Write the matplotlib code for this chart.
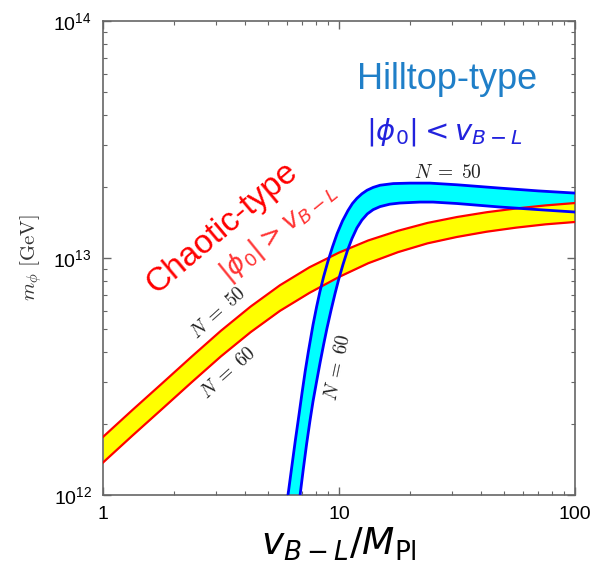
import numpy as np
import matplotlib
matplotlib.use('Agg')
import matplotlib.pyplot as plt

plt.rcParams['font.family'] = ['Liberation Sans', 'DejaVu Sans']

# v_{B-L}/M_Pl and m_phi in units of 1e12 GeV
x_chaotic = [1, 1.33, 1.78, 2.37, 3.16, 4.22, 5.62, 7.50, 10, 13.3, 17.8, 23.7,
             31.6, 42.2, 56.2, 75, 100]
m_chaotic_N50 = [1.758, 2.280, 2.958, 3.828, 4.932, 6.237, 7.674, 9.141, 10.54,
                 11.86, 13.03, 14.06, 14.89, 15.60, 16.18, 16.67, 17.06]
m_chaotic_N60 = [1.371, 1.778, 2.307, 2.985, 3.846, 4.864, 5.984, 7.129, 8.318,
                 9.506, 10.59, 11.53, 12.27, 12.91, 13.43, 13.87, 14.19]

x_hill_N50 = [5.89, 6.08, 6.31, 6.53, 6.76, 6.97, 7.19, 7.41, 7.76, 8.04, 8.30,
              8.61, 8.97, 9.38, 9.82, 10.35, 10.91, 11.40, 11.91, 12.50, 13.15,
              13.96, 14.93, 16.98, 20.0, 24.3, 31.6, 48.1, 70.0, 100]
m_hill_N50 = [0.785, 1.000, 1.318, 1.698, 2.163, 2.692, 3.327, 4.009, 5.224, 6.237,
              7.211, 8.356, 9.661, 11.12, 12.68, 14.35, 15.85, 16.98, 17.86, 18.66,
              19.32, 19.86, 20.28, 20.61, 20.70, 20.70, 20.37, 19.72, 19.19, 18.79]
x_hill_N60 = [6.61, 6.84, 7.06, 7.29, 7.53, 7.76, 8.04, 8.32, 8.61, 8.89, 9.25,
              9.62, 10.0, 10.40, 10.86, 11.35, 11.91, 12.50, 13.18, 13.96, 14.93,
              16.41, 18.11, 22.03, 25.0, 31.6, 48.1, 70.0, 100]
m_hill_N60 = [0.759, 1.000, 1.288, 1.641, 2.051, 2.483, 3.020, 3.631, 4.325, 5.047,
              6.012, 7.079, 8.222, 9.397, 10.76, 12.08, 13.40, 14.45, 15.35, 16.00,
              16.48, 16.87, 17.06, 17.22, 17.22, 16.98, 16.41, 16.00, 15.63]

unit = 1e12
xc = np.array(x_chaotic)
c50 = np.array(m_chaotic_N50) * unit
c60 = np.array(m_chaotic_N60) * unit
h50x, h50y = np.array(x_hill_N50), np.array(m_hill_N50) * unit
h60x, h60y = np.array(x_hill_N60), np.array(m_hill_N60) * unit

fig = plt.figure(figsize=(5.96, 5.66), dpi=100)
ax = fig.add_axes([0.1728, 0.1254, 0.792, 0.8375])
ax.set_xscale('log')
ax.set_yscale('log')

# hilltop band
ax.fill(np.concatenate([h50x, h60x[::-1]]), np.concatenate([h50y, h60y[::-1]]),
        color='#00ffff', lw=0, zorder=1)
# chaotic band
ax.fill_between(xc, c60, c50, color='#ffff00', lw=0, zorder=2)
ax.plot(xc, c50, color='#ff0000', lw=1.6, zorder=3)
ax.plot(xc, c60, color='#ff0000', lw=1.6, zorder=3)
ax.plot(h50x, h50y, color='#0000ff', lw=2.0, zorder=4)
ax.plot(h60x, h60y, color='#0000ff', lw=2.0, zorder=4)

ax.set_xlim(1, 100)
ax.set_ylim(1e12, 1e14)
ax.set_xticks([1, 10, 100])
ax.set_xticklabels(['1', '10', '100'])

ax.tick_params(which='both', direction='in', top=True, right=True, color='#666666',
               labelsize=14, pad=8)
ax.tick_params(which='major', length=6, width=1)
ax.tick_params(which='minor', length=3, width=0.8)
for s in ax.spines.values():
    s.set_color('#666666')
    s.set_linewidth(1.2)

ax.set_xlabel(r'$v_{B-L}/M_{\mathrm{Pl}}$', fontsize=27, math_fontfamily='dejavusans',
              labelpad=2)
ax.set_ylabel(r'$m_\phi\ [\mathrm{GeV}]$', fontsize=15, math_fontfamily='cm',
              color='#333333')
ax.yaxis.set_label_coords(-0.125, 0.5)

# region labels
ax.text(28.7, 5.64e13, 'Hilltop-type', color='#1f7fc8', fontsize=26,
        ha='center', va='center')
ax.text(27.9, 3.40e13, r'$|\phi_0| < v_{B-L}$', color='#2222dd', fontsize=21,
        math_fontfamily='dejavusans', ha='center', va='center')
ax.text(3.19, 1.34e13, 'Chaotic-type', color='#ff0000', fontsize=24, rotation=40,
        rotation_mode='anchor', ha='center', va='center')
ax.text(5.52, 1.29e13, r'$|\phi_0| > v_{B-L}$', color='#ff3333', fontsize=19,
        rotation=39, rotation_mode='anchor', math_fontfamily='dejavusans',
        ha='center', va='center')

# e-fold labels
ax.text(29.0, 2.29e13, r'$N \;=\; 50$', fontsize=14, math_fontfamily='cm',
        color='#222222', ha='center', va='center')
ax.text(9.9, 3.44e12, r'$N \;=\; 60$', fontsize=14, math_fontfamily='cm',
        color='#222222', rotation=78, rotation_mode='anchor', ha='center', va='center')
ax.text(3.10, 5.86e12, r'$N \;=\; 50$', fontsize=14, math_fontfamily='cm',
        color='#222222', rotation=42, rotation_mode='anchor', ha='center', va='center')
ax.text(3.39, 3.27e12, r'$N \;=\; 60$', fontsize=14, math_fontfamily='cm',
        color='#222222', rotation=42, rotation_mode='anchor', ha='center', va='center')

fig.savefig('out.png', dpi=100)
